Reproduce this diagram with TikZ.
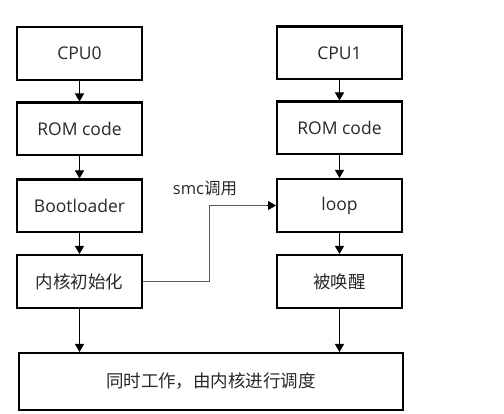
\documentclass[tikz,border=0pt]{standalone}
\usepackage{fontspec}
\setmainfont{Open Sans}
\newfontfamily\cjk{Noto Sans CJK SC}
\usetikzlibrary{arrows.meta}
\definecolor{txt}{RGB}{40,40,40}
\definecolor{wire}{RGB}{90,90,90}
\begin{document}
\begin{tikzpicture}[x=1pt,y=-1pt,
    box/.style={draw, line width=2.4pt, minimum width=124.6pt, minimum height=52.6pt,
      inner sep=0pt, text=txt, font=\fontsize{17.5}{20}\selectfont},
    arr/.style={-{Triangle[width=9pt,length=8pt]}, line width=0.8pt}]
  \useasboundingbox (0,0) rectangle (504,414);

  % CPU0 side
  \node [box] (CPU0) at (79.5,53.5) {CPU0};
  \node [box] (ROM0) at (79.5,129) {ROM code};
  \node [box] (BL)   at (79.5,206) {Bootloader};
  \node [box] (KI)   at (79.5,281.5) {\cjk 内核初始化};

  % CPU1 side
  \node [box] (CPU1) at (339.5,53) {CPU1};
  \node [box] (ROM1) at (339.5,128) {ROM code};
  \node [box] (LOOP) at (339.5,205.5) {loop};
  \node [box] (WAKE) at (339.5,281.5) {\cjk 被唤醒};

  \node [box, minimum width=383.6pt, minimum height=56.6pt] (ALL) at (211,381.5)
        {\cjk 同时工作，由内核进行调度};

  \coordinate (SMC) at (209,281.5);
  \coordinate (TIP) at ([xshift=-9pt]LOOP.west);

  \draw[arr] (CPU0) -- (ROM0);
  \draw[arr] (ROM0) -- (BL);
  \draw[arr] (BL) -- (KI);
  \draw[arr] (KI) -- (KI |- ALL.north);

  \draw[arr] (CPU1) -- (ROM1);
  \draw[arr] (ROM1) -- (LOOP);
  \draw[arr] (LOOP) -- (WAKE);
  \draw[arr] (WAKE) -- (WAKE |- ALL.north);

  \draw[wire, line width=0.8pt] (KI.east) -- (SMC) |- (TIP);
  \draw[arr] (TIP) -- (LOOP.west);
  \node [text=txt, font=\fontsize{16.5}{20}\selectfont] (LBL) at (205,188.5) {smc\cjk 调用};
\end{tikzpicture}
\end{document}
